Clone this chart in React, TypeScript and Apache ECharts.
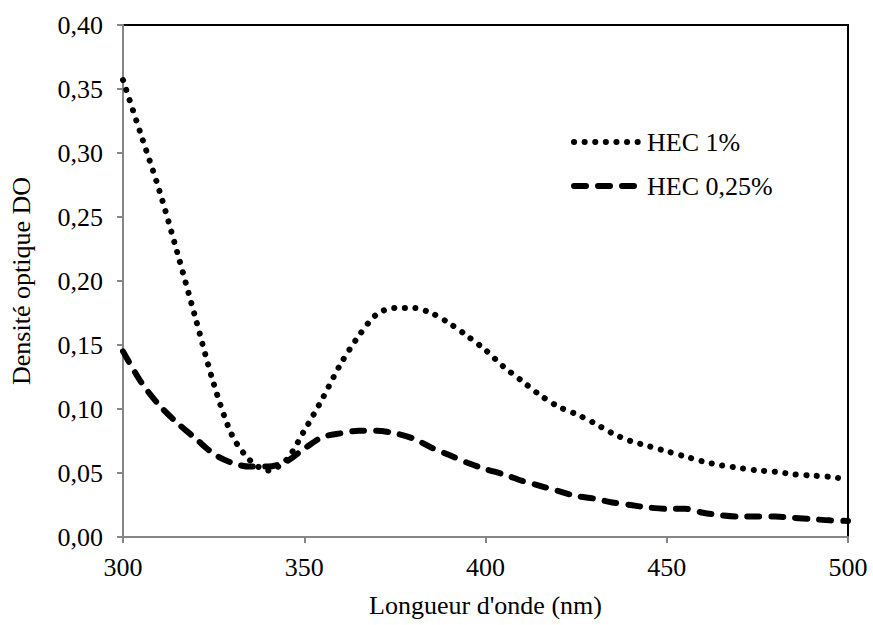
import React, { useEffect, useRef } from "react";
import * as echarts from "echarts";

const wavelengths = [300, 305, 310, 315, 320, 325, 330, 335, 340, 345, 350, 355, 360, 365, 370, 375, 380, 385, 390, 395, 400, 405, 410, 415, 420, 425, 430, 435, 440, 445, 450, 455, 460, 465, 470, 475, 480, 485, 490, 495, 500];

const hec1 = [0.357, 0.314, 0.271, 0.222, 0.171, 0.12, 0.08, 0.06, 0.052, 0.06, 0.083, 0.108, 0.135, 0.157, 0.174, 0.179, 0.179, 0.175, 0.167, 0.157, 0.146, 0.133, 0.122, 0.111, 0.102, 0.096, 0.089, 0.081, 0.075, 0.071, 0.067, 0.063, 0.059, 0.056, 0.054, 0.052, 0.051, 0.049, 0.048, 0.047, 0.045];

const hec025 = [0.145, 0.121, 0.103, 0.089, 0.077, 0.065, 0.058, 0.055, 0.055, 0.059, 0.069, 0.078, 0.081, 0.083, 0.083, 0.081, 0.077, 0.07, 0.064, 0.058, 0.053, 0.049, 0.044, 0.04, 0.036, 0.032, 0.03, 0.027, 0.025, 0.023, 0.022, 0.022, 0.019, 0.017, 0.016, 0.016, 0.016, 0.015, 0.014, 0.013, 0.0125];

const seriesNames = ["HEC 1%", "HEC 0,25%"];
const xAxisName = "Longueur d'onde (nm)";
const yAxisName = "Densité optique DO";

const FONT = "'Liberation Serif', 'Times New Roman', serif";
const FS = 26;
const DOTTED: number[] = [0.1, 10.5];
const DASHED: number[] = [12, 12];

export default function App() {
  const ref = useRef<HTMLDivElement>(null);
  useEffect(() => {
    document.body.style.margin = "0";
    const chart = echarts.init(ref.current!, null, { renderer: "svg" });
    chart.setOption({
      animation: false,
      backgroundColor: "#fff",
      textStyle: { fontFamily: FONT, color: "#000" },
      grid: {
        left: 118,
        right: 25,
        top: 25,
        bottom: 88,
        show: true,
        borderColor: "#000",
        borderWidth: 2,
      },
      legend: {
        orient: "vertical",
        left: 566,
        top: 124,
        itemWidth: 64,
        itemHeight: 14,
        itemGap: 18,
        itemStyle: { opacity: 0 },
        textStyle: { fontFamily: FONT, fontSize: FS, color: "#000", padding: [0, 0, 0, 4] },
        data: [
          { name: seriesNames[0], lineStyle: { width: 6, type: DOTTED, cap: "round", color: "#000" }, itemStyle: { opacity: 0 } },
          { name: seriesNames[1], lineStyle: { width: 6, type: DASHED, cap: "round", color: "#000" }, itemStyle: { opacity: 0 } },
        ],
      },
      xAxis: {
        type: "value",
        min: 300,
        max: 500,
        interval: 50,
        name: xAxisName,
        nameLocation: "middle",
        nameGap: 55,
        nameTextStyle: { fontFamily: FONT, fontSize: FS, color: "#000" },
        axisLine: { show: true, lineStyle: { color: "#868686", width: 2 } },
        axisTick: { show: true, inside: false, length: 6, lineStyle: { color: "#868686", width: 2 } },
        axisLabel: { fontFamily: FONT, fontSize: FS, color: "#000", margin: 17 },
        splitLine: { show: false },
      },
      yAxis: {
        type: "value",
        min: 0,
        max: 0.4,
        interval: 0.05,
        name: yAxisName,
        nameLocation: "middle",
        nameGap: 89,
        nameRotate: 90,
        nameTextStyle: { fontFamily: FONT, fontSize: FS, color: "#000" },
        axisLine: { show: true, lineStyle: { color: "#868686", width: 2 } },
        axisTick: { show: true, inside: false, length: 6, lineStyle: { color: "#868686", width: 2 } },
        axisLabel: {
          fontFamily: FONT,
          fontSize: FS,
          color: "#000",
          margin: 20,
          formatter: (v: number) => v.toFixed(2).replace(".", ","),
        },
        splitLine: { show: false },
      },
      series: [
        {
          name: seriesNames[0],
          type: "line",
          data: wavelengths.map((w, i) => [w, hec1[i]]),
          smooth: 0.3,
          showSymbol: false,
          symbol: "none",
          color: "#000",
          lineStyle: { color: "#000", width: 6, type: DOTTED, cap: "round" },
        },
        {
          name: seriesNames[1],
          type: "line",
          data: wavelengths.map((w, i) => [w, hec025[i]]),
          smooth: 0.3,
          showSymbol: false,
          symbol: "none",
          color: "#000",
          lineStyle: { color: "#000", width: 6, type: DASHED, cap: "round" },
        },
      ],
    });
    return () => chart.dispose();
  }, []);
  return <div ref={ref} style={{ width: 873, height: 625 }} />;
}
